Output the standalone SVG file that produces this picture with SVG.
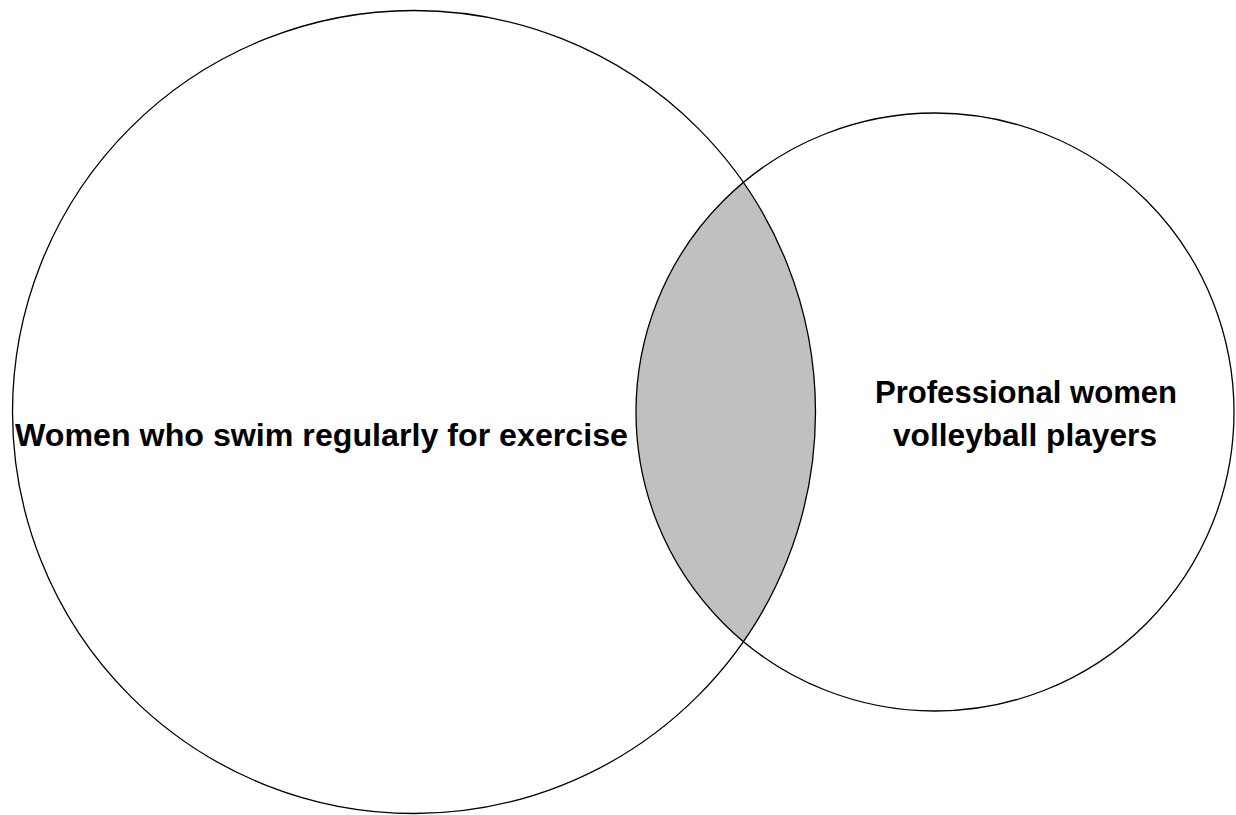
<svg xmlns="http://www.w3.org/2000/svg" width="1236" height="815" viewBox="0 0 1236 815">
<style>
.c{fill:none;stroke:#000;stroke-width:1.3}
.t{font-family:"Liberation Sans",Arial,sans-serif;font-weight:bold;font-size:32px;fill:#000}
</style>
<rect width="1236" height="815" fill="#fff"/>
<defs>
<clipPath id="clipA"><circle cx="414" cy="412" r="401.5"/></clipPath>
</defs>
<g id="intersection">
<circle cx="935" cy="412" r="299" fill="#c0c0c0" clip-path="url(#clipA)"/>
</g>
<g id="setA">
<circle class="c" cx="414" cy="412" r="401.5"/>
<text class="t" x="15" y="446" textLength="613" lengthAdjust="spacingAndGlyphs">Women who swim regularly for exercise</text>
</g>
<g id="setB">
<circle class="c" cx="935" cy="412" r="299"/>
<text class="t" x="875" y="403" textLength="302" lengthAdjust="spacingAndGlyphs">Professional women</text>
<text class="t" x="893" y="446" textLength="264" lengthAdjust="spacingAndGlyphs">volleyball players</text>
</g>
</svg>
